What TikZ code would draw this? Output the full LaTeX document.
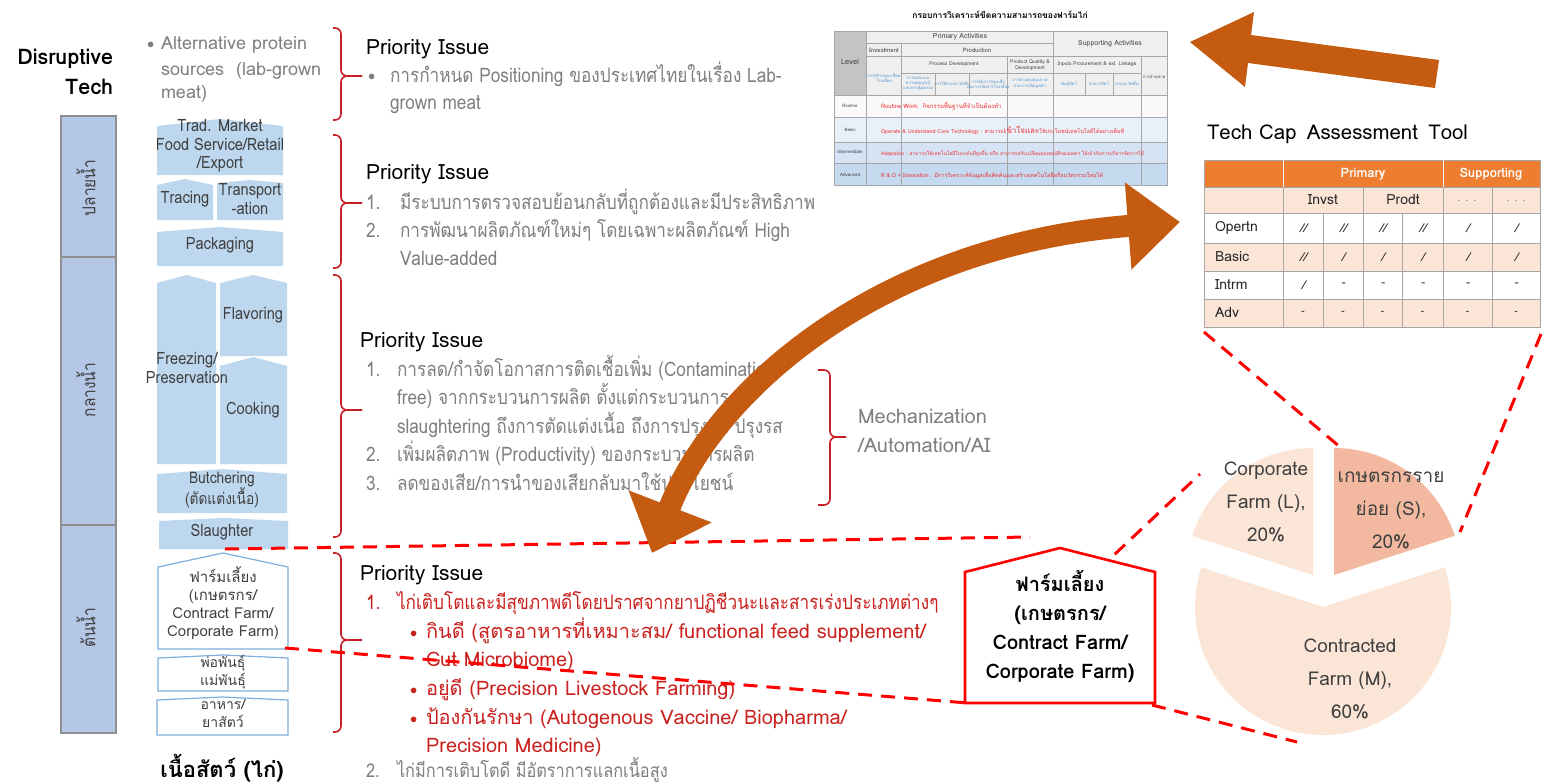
\documentclass[tikz,border=0pt]{standalone}
\usepackage{fontspec}
\setmainfont{Loma}[Script=Thai]
\newfontfamily\cond{Loma}[Script=Thai,FakeStretch=0.86]
\usetikzlibrary{arrows.meta}
\definecolor{blockblue}{HTML}{BDD7EE}
\definecolor{barblue}{HTML}{B4C7E7}
\definecolor{bargray}{HTML}{8F8F8F}
\definecolor{outblue}{HTML}{7FAFDD}
\definecolor{orangeA}{HTML}{C55A11}
\definecolor{brk}{HTML}{C81E28}
\definecolor{redT}{HTML}{C9211E}
\definecolor{dashred}{HTML}{FF0000}
\definecolor{grayT}{HTML}{7F7F7F}
\definecolor{darkT}{HTML}{404040}
\definecolor{pieL}{HTML}{FBE5D6}
\definecolor{pieS}{HTML}{F2B9A0}
\definecolor{techO}{HTML}{ED7D31}
\definecolor{techP}{HTML}{FBE5D6}
\definecolor{tline}{HTML}{A6A6A6}
\definecolor{hdgray}{HTML}{C4C4C4}
\definecolor{hdlight}{HTML}{EFEFEF}
\definecolor{rowA}{HTML}{FAFAFA}
\definecolor{rowB}{HTML}{E8F0FA}
\definecolor{rowC}{HTML}{D5E3F4}
\definecolor{rowD}{HTML}{C5D9EF}
\definecolor{tblue}{HTML}{4A90D0}
\definecolor{tred}{HTML}{F03030}
\newcommand\houseshape[6]{\path[#6] (#1,#5) -- (#1,#4) -- ({(#1+#2)/2},#3) -- (#2,#4) -- (#2,#5) -- cycle;}
\newcommand\rbr[6]{%
  \draw[brkline, rounded corners=6] (#1,#4) -| (#2,#5) -- (#3,#5);
  \draw[brkline, rounded corners=6] (#3,#5) -- (#2,#5) |- (#1,#6);}
\begin{document}
\begin{tikzpicture}[x=1pt,y=-1pt,
  every node/.style={inner sep=0pt, outer sep=0pt},
  lt/.style={anchor=base west, font=\cond\fontsize{20}{24}\selectfont, text=grayT},
  rt/.style={anchor=base west, font=\cond\fontsize{20}{24}\selectfont, text=redT},
  rtw/.style={anchor=base west, font=\fontsize{20}{24}\selectfont, text=redT},
  pri/.style={anchor=base west, font=\fontsize{21}{25}\selectfont, text=black},
  btx/.style={align=center, font=\cond\fontsize{17}{18.5}\selectfont, text=darkT},
  wtx/.style={align=center, font=\fontsize{15}{18}\selectfont, text=darkT},
  brkline/.style={draw=brk, line width=1.6pt},
  dashl/.style={draw=dashred, line width=3pt, dash pattern=on 14pt off 9pt},
  tl/.style={draw=tline, line width=0.7pt},
  tt/.style={font=\fontsize{15}{18}\selectfont, text=black!85},
  tiny/.style={font=\fontsize{6}{7}\selectfont, text=darkT, align=center},
  tinyb/.style={font=\fontsize{4.2}{5.2}\selectfont, text=tblue, align=center},
  tinyr/.style={anchor=base west, font=\fontsize{6}{7}\selectfont, text=tred},
  pie/.style={font=\fontsize{19}{33}\selectfont, text=darkT, align=center}]
\useasboundingbox (0,0) rectangle (1545,784);
\fill[white] (0,0) rectangle (1545,784);

% ---------- left title and disruptive tech ----------
\node[anchor=base east, font=\bfseries\fontsize{21.5}{25}\selectfont] (dis1) at (113,65) {Disruptive};
\node[anchor=base east, font=\bfseries\fontsize{21.5}{25}\selectfont] (dis2) at (113,94) {Tech};
\node[anchor=base west, text=grayT, font=\fontsize{14}{17}\selectfont] (altb) at (147,49) {$\bullet$};
\node[anchor=base west, text=grayT, font=\fontsize{18}{22}\selectfont] (alt1) at (161,50) {Alternative protein};
\node[anchor=base west, text=grayT, font=\fontsize{18}{22}\selectfont] (alt2) at (161,75) {sources\,\, (lab-grown};
\node[anchor=base west, text=grayT, font=\fontsize{18}{22}\selectfont] (alt3) at (161,99) {meat)};

% ---------- vertical bars ----------
\draw[fill=barblue, draw=bargray, line width=2pt] (61,116) rectangle (116,257);
\draw[fill=barblue, draw=bargray, line width=2pt] (61,257) rectangle (116,525);
\draw[fill=barblue, draw=bargray, line width=2pt] (61,525) rectangle (116,733);
\node[rotate=90, text=darkT, font=\cond\fontsize{18}{22}\selectfont] (v1) at (86,188) {ปลายน้ำ};
\node[rotate=90, text=darkT, font=\cond\fontsize{18}{22}\selectfont] (v2) at (86,390) {กลางน้ำ};
\node[rotate=90, text=darkT, font=\cond\fontsize{18}{22}\selectfont] (v3) at (86,628) {ต้นน้ำ};

% ---------- value chain blocks ----------
\houseshape{157}{283}{119}{126}{175}{fill=blockblue}
\houseshape{157}{213}{179}{185}{220}{fill=blockblue}
\houseshape{217}{283}{180}{183}{220}{fill=blockblue}
\houseshape{157}{283}{227}{232}{266}{fill=blockblue}
\houseshape{157}{216}{275}{283}{464}{fill=blockblue}
\houseshape{220}{287}{275}{283}{356}{fill=blockblue}
\houseshape{220}{287}{357}{366}{464}{fill=blockblue}
\houseshape{157}{287}{469}{474}{513}{fill=blockblue}
\houseshape{159}{288}{518}{521}{549}{fill=blockblue}
\houseshape{158}{288}{553}{567}{649}{draw=outblue, line width=1.2pt, fill=white}
\houseshape{158}{288}{655}{658}{691}{draw=outblue, line width=1.2pt, fill=white}
\houseshape{157}{288}{697}{700}{735}{draw=outblue, line width=1.2pt, fill=white}

\node[btx] (trad) at (220,146) {Trad. Market\\Food Service/Retail\\/Export};
\node[btx] (trac) at (185,199) {Tracing};
\node[btx] (trans) at (250,199) {Transport\\-ation};
\node[btx] (pack) at (220,245) {Packaging};
\node[btx] (freez) at (187,368) {Freezing/\\Preservation};
\node[btx] (flav) at (253,315) {Flavoring};
\node[btx] (cook) at (253,410) {Cooking};
\node[btx, font=\cond\fontsize{16}{17}\selectfont] (butch) at (222,490) {Butchering\\(ตัดแต่งเนื้อ)};
\node[btx] (slau) at (222,532) {Slaughter};
\node[wtx] (farm) at (223,603) {ฟาร์มเลี้ยง\\(เกษตรกร/\\Contract Farm/\\Corporate Farm)};
\node[wtx, font=\fontsize{14}{18}\selectfont] (breed) at (223,672) {พ่อพันธุ์\\แม่พันธุ์};
\node[wtx, font=\fontsize{14}{18}\selectfont] (feed) at (223,714) {อาหาร/\\ยาสัตว์};
\node[font=\bfseries\fontsize{22}{26}\selectfont] (meat) at (222,768) {เนื้อสัตว์ (ไก่)};

% ---------- brackets ----------
\rbr{333}{341}{362}{28}{76}{120}
\rbr{333}{341}{362}{135}{203}{268}
\rbr{333}{341}{362}{275}{410}{537}
\rbr{333}{341}{362}{553}{640}{732}
\rbr{818}{830}{846}{370}{437}{505}

% ---------- priority issues ----------
\node[pri] (pi1) at (366,55) {Priority Issue};
\node[lt, font=\fontsize{14}{17}\selectfont] (b1) at (368,81) {$\bullet$};
\node[lt] (t1a) at (390,82) {การกำหนด Positioning ของประเทศไทยในเรื่อง Lab-};
\node[lt] (t1b) at (390,110) {grown meat};

\node[pri] (pi2) at (366,179) {Priority Issue};
\node[lt] (n2a) at (366,209) {1.};
\node[lt] (t2a) at (400,209) {มีระบบการตรวจสอบย้อนกลับที่ถูกต้องและมีประสิทธิภาพ};
\node[lt] (n2b) at (366,237) {2.};
\node[lt] (t2b) at (400,237) {การพัฒนาผลิตภัณฑ์ใหม่ๆ โดยเฉพาะผลิตภัณฑ์ High};
\node[lt] (t2c) at (400,265) {Value-added};

\node[pri] (pi3) at (360,347) {Priority Issue};
\node[lt] (n3a) at (366,376) {1.};
\node[lt] (t3a) at (397,376) {การลด/กำจัดโอกาสการติดเชื้อเพิ่ม (Contamination-};
\node[lt] (t3b) at (397,404) {free) จากกระบวนการผลิต ตั้งแต่กระบวนการ};
\node[lt] (t3c) at (397,433) {slaughtering ถึงการตัดแต่งเนื้อ ถึงการปรุงสุก ปรุงรส};
\node[lt] (n3d) at (366,461) {2.};
\node[lt] (t3d) at (397,461) {เพิ่มผลิตภาพ (Productivity) ของกระบวนการผลิต};
\node[lt] (n3e) at (366,490) {3.};
\node[lt] (t3e) at (397,490) {ลดของเสีย/การนำของเสียกลับมาใช้ประโยชน์};
\node[lt, font=\fontsize{20}{24}\selectfont] (mech1) at (858,423) {Mechanization};
\node[lt, font=\fontsize{20}{24}\selectfont] (mech2) at (858,452) {/Automation/AI};

\node[pri] (pi4) at (360,580) {Priority Issue};
\node[rt] (n4a) at (366,609) {1.};
\node[rt] (t4a) at (397,609) {ไก่เติบโตและมีสุขภาพดีโดยปราศจากยาปฏิชีวนะและสารเร่งประเภทต่างๆ};
\node[rt, font=\fontsize{14}{17}\selectfont] (b4b) at (410,637) {$\bullet$};
\node[rtw] (t4b) at (426,638) {กินดี (สูตรอาหารที่เหมาะสม/ functional feed supplement/};
\node[rtw] (t4c) at (426,666) {Gut Microbiome)};
\node[rt, font=\fontsize{14}{17}\selectfont] (b4d) at (410,694) {$\bullet$};
\node[rtw] (t4d) at (426,695) {อยู่ดี (Precision Livestock Farming)};
\node[rt, font=\fontsize{14}{17}\selectfont] (b4e) at (410,723) {$\bullet$};
\node[rtw] (t4e) at (426,724) {ป้องกันรักษา (Autogenous Vaccine/ Biopharma/};
\node[rtw] (t4f) at (426,752) {Precision Medicine)};
\node[lt, font=\cond\fontsize{19}{22}\selectfont] (n4g) at (366,777) {2.};
\node[lt, font=\cond\fontsize{19}{22}\selectfont] (t4g) at (397,777) {ไก่มีการเติบโตดี มีอัตราการแลกเนื้อสูง};

% ---------- top analysis table (screenshot) ----------
\node[font=\bfseries\fontsize{8.5}{10}\selectfont] (ttl) at (1000,15) {กรอบการวิเคราะห์ขีดความสามารถของฟาร์มไก่};
\fill[hdgray] (834,31) rectangle (866,95);
\fill[hdlight] (866,31) rectangle (1167,95);
\fill[rowA] (834,95) rectangle (1167,117);
\fill[rowB] (834,117) rectangle (1167,142);
\fill[rowC] (834,142) rectangle (1167,163);
\fill[rowD] (834,163) rectangle (1167,185);
\draw[tl] (834,31) rectangle (1167,185);
\draw[tl] (866,43) -- (1053,43) (866,56) -- (1167,56) (901,73) -- (1141,73);
\draw[tl] (834,95) -- (1167,95) (834,117) -- (1167,117) (834,142) -- (1167,142) (834,163) -- (1167,163);
\draw[tl] (866,31) -- (866,185) (1053,31) -- (1053,185) (901,43) -- (901,185) (1007,56) -- (1007,185) (1141,56) -- (1141,185);
\draw[tl] (935,73) -- (935,95) (969,73) -- (969,95) (1085,73) -- (1085,95) (1113,73) -- (1113,95);
\node[tiny, font=\fontsize{7.5}{9}\selectfont] (tlev) at (850,62) {Level};
\node[tiny, font=\fontsize{7}{8}\selectfont] (tpri) at (960,37) {Primary Activities};
\node[tiny, font=\fontsize{7}{8}\selectfont] (tsup) at (1110,44) {Supporting Activities};
\node[tiny] (tinv) at (884,50) {Investment};
\node[tiny] (tprod) at (977,50) {Production};
\node[tiny, font=\fontsize{5}{6}\selectfont] (tpd) at (954,64) {Process Development};
\node[tiny, font=\fontsize{5}{6}\selectfont] (tpq) at (1030,65) {Product Quality \&\\Development};
\node[tiny, font=\fontsize{5}{6}\selectfont] (tip) at (1097,64) {Inputs Procurement \& ext. Linkage};
\node[tinyb] (s1) at (884,78) {การสร้างและเชื่อม\\โรงเลี้ยง};
\node[tinyb] (s2) at (918,84) {การออกแบบ\\ความสมบูรณ์\\และการคุ้มครอง};
\node[tinyb] (s3) at (952,84) {การใช้ยาและวัคซีน};
\node[tinyb] (s4) at (988,84) {การจัดการของเสีย\\และการจัดการโรงเลี้ยง};
\node[tinyb] (s5) at (1030,84) {การควบคุมคุณภาพ\\และการเพิ่มมูลค่า};
\node[tinyb] (s6) at (1069,84) {พันธุ์สัตว์};
\node[tinyb] (s7) at (1099,84) {อาหารสัตว์};
\node[tinyb] (s8) at (1127,84) {ยาและวัคซีน};
\node[tinyb, text=darkT] (s9) at (1154,77) {การจำหน่าย};
\node[tiny, font=\fontsize{4.5}{5}\selectfont] (lr) at (850,106) {Routine};
\node[tiny, font=\fontsize{4.5}{5}\selectfont] (lb) at (850,130) {Basic};
\node[tiny, font=\fontsize{4.5}{5}\selectfont] (li) at (850,152) {Intermediate};
\node[tiny, font=\fontsize{4.5}{5}\selectfont] (la) at (850,175) {Advanced};
\node[tinyr] (rr) at (881,108) {Routine Work:\, กิจกรรมพื้นฐานที่จำเป็นต้องทำ};
\node[tinyr, font=\fontsize{5.4}{7}\selectfont] (rb) at (881,133) {Operate \& Understand Core Technology : สามารถ{\fontsize{8}{10}\selectfont เข้าใจและ}ใช้ประโยชน์เทคโนโลยีได้อย่างเต็มที่};
\node[tinyr, font=\fontsize{4.9}{7}\selectfont] (ri) at (881,155) {Adaptation : สามารถใช้เทคโนโลยีในระดับที่สูงขึ้น หรือ สามารถปรับเปลี่ยนคุณสมบัติของเทคฯ ให้เข้ากับการบริหารจัดการได้};
\node[tinyr, font=\fontsize{5.5}{7}\selectfont] (ra) at (881,177) {R \& D + Innovation : มีการวิเคราะห์ข้อมูลเพื่อคิดค้นและสร้างเทคโนโลยีหรือนวัตกรรมใหม่ได้};

% ---------- top orange arrow ----------
\fill[orangeA] (1190,42) -- (1254,12) -- (1251,35) -- (1439,60) -- (1435,88) -- (1248,63) -- (1245,87) -- cycle;

% ---------- Tech cap table ----------
\node[anchor=base west, font=\fontsize{20.4}{24}\selectfont] (tct) at (1207,139) {Tech Cap\, Assessment\, Tool};
\fill[techO] (1204,160) rectangle (1540,187);
\fill[techP] (1204,187) rectangle (1540,213);
\fill[white] (1204,213) rectangle (1540,243);
\fill[techP] (1204,243) rectangle (1540,271);
\fill[white] (1204,271) rectangle (1540,299);
\fill[techP] (1204,299) rectangle (1540,327);
\draw[tl] (1204,187) -- (1540,187) (1204,213) -- (1540,213) (1204,243) -- (1540,243) (1204,271) -- (1540,271) (1204,299) -- (1540,299) (1204,327) -- (1540,327);
\draw[tl] (1204,160) rectangle (1540,327);
\draw[draw=white, line width=1pt] (1283,160) -- (1283,187) (1443,160) -- (1443,187);
\draw[tl] (1283,187) -- (1283,327) (1363,187) -- (1363,327) (1443,187) -- (1443,327) (1492,187) -- (1492,327);
\draw[tl] (1323,213) -- (1323,327) (1402,213) -- (1402,327);
\node[text=white, font=\bfseries\fontsize{13}{15}\selectfont] (hp) at (1363,174) {Primary};
\node[text=white, font=\bfseries\fontsize{13}{15}\selectfont] (hs) at (1491,174) {Supporting};
\node[tt, font=\fontsize{14}{15}\selectfont] (hi) at (1323,200) {Invst};
\node[tt, font=\fontsize{14}{15}\selectfont] (hpd) at (1403,200) {Prodt};
\node[tt, text=grayT, font=\fontsize{11}{13}\selectfont] (hd1) at (1467,201) {. . .};
\node[tt, text=grayT, font=\fontsize{11}{13}\selectfont] (hd2) at (1516,201) {. . .};
\node[tt, anchor=west, font=\fontsize{14}{15}\selectfont] (ro) at (1215,228) {Opertn};
\node[tt, anchor=west, font=\fontsize{14}{15}\selectfont] (rbs) at (1215,257) {Basic};
\node[tt, anchor=west, font=\fontsize{14}{15}\selectfont] (rin) at (1215,285) {Intrm};
\node[tt, anchor=west, font=\fontsize{14}{15}\selectfont] (rad) at (1215,313) {Adv};
\foreach \v [count=\i] in {//,//,//,//,/,/} {
  \pgfmathsetmacro\cx{{1303,1343,1382.5,1422.5,1467.5,1516}[\i-1]}
  \node[tt, font=\itshape\fontsize{12}{14}\selectfont] (vo\i) at (\cx,228) {\v};}
\foreach \v [count=\i] in {//,/,/,/,/,/} {
  \pgfmathsetmacro\cx{{1303,1343,1382.5,1422.5,1467.5,1516}[\i-1]}
  \node[tt, font=\itshape\fontsize{12}{14}\selectfont] (vb\i) at (\cx,257) {\v};}
\foreach \v [count=\i] in {/,-,-,-,-,-} {
  \pgfmathsetmacro\cx{{1303,1343,1382.5,1422.5,1467.5,1516}[\i-1]}
  \node[tt, font=\itshape\fontsize{12}{14}\selectfont] (vi\i) at (\cx,285) {\v};}
\foreach \i in {1,...,6} {
  \pgfmathsetmacro\cx{{1303,1343,1382.5,1422.5,1467.5,1516}[\i-1]}
  \node[tt, font=\fontsize{10}{12}\selectfont] (va\i) at (\cx,313) {-};}

% ---------- pie chart ----------
\fill[pieL] (1323,607) -- ++(-18:128) arc[start angle=-18, end angle=198, radius=128] -- cycle;
\fill[pieL] (1313,575) -- ++(-90:127) arc[start angle=-90, end angle=-162, radius=127] -- cycle;
\fill[pieS] (1334,575) -- ++(-18:127) arc[start angle=-18, end angle=-90, radius=127] -- cycle;
\node[pie] (pc) at (1266,502) {Corporate\\Farm (L),\\20\%};
\node[pie] (ps) at (1391,510) {เกษตรกรราย\\ย่อย (S),\\20\%};
\node[pie] (pm) at (1350,679) {Contracted\\Farm (M),\\60\%};

% ---------- dashed connectors ----------
\coordinate (slauR) at (225,549);
\coordinate (pentTop) at (1030,537);
\coordinate (farmR) at (285,648);
\coordinate (pentBL) at (968,703);
\coordinate (pentBR) at (1152,705);
\coordinate (pieBL) at (1297,742);
\coordinate (pentTR) at (1098,570);
\coordinate (pieL) at (1200,474);
\coordinate (tabBL) at (1204,332);
\coordinate (pieTop) at (1340,447);
\coordinate (tabBR) at (1541,334);
\coordinate (pieR) at (1460,532);
\draw[dashl] (slauR) -- (pentTop);
\draw[dashl] (farmR) -- (pentBL);
\draw[dashl] (pentBR) -- (pieBL);
\draw[dashl] (pentTR) -- (pieL);
\draw[dashl] (tabBL) -- (pieTop);
\draw[dashl] (tabBR) -- (pieR);

% ---------- farm pentagon ----------
\draw[draw=dashred, line width=2.6pt, fill=white] (965,703) -- (965,572) -- (1060,548) -- (1155,572) -- (1155,703) -- cycle;
\node[align=center, font=\bfseries\fontsize{20}{29}\selectfont] (pent) at (1060,627) {ฟาร์มเลี้ยง\\(เกษตรกร/\\Contract Farm/\\Corporate Farm)};

% ---------- curved double arrow ----------
\coordinate (lowTip) at (652,553);
\coordinate (upTip) at (1180,222);
\draw[orangeA, line width=22pt, {Triangle[length=50pt,width=86pt]}-{Triangle[length=52pt,width=84pt]}]
  (lowTip) .. controls (715,390) and (880,245) .. (upTip);
\end{tikzpicture}
\end{document}
